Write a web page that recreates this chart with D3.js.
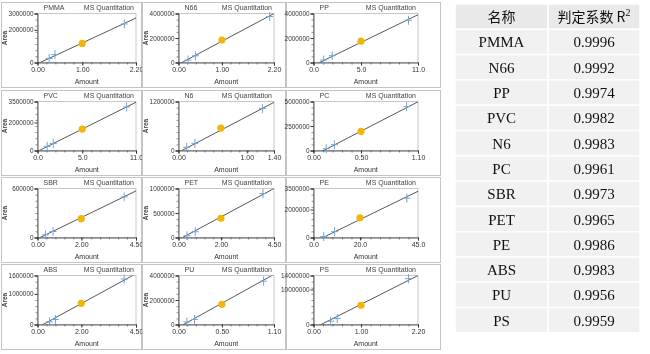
<!DOCTYPE html>
<html><head><meta charset="utf-8">
<script src="https://cdn.jsdelivr.net/npm/d3@7"></script>
<style>body{margin:0;background:#fff}svg{display:block;will-change:transform}</style>
</head><body><svg id="c" width="650" height="354"></svg>
<script>
const names = ["PMMA","N66","PP","PVC","N6","PC","SBR","PET","PE","ABS","PU","PS"];
const r2 = ["0.9996","0.9992","0.9974","0.9982","0.9983","0.9961","0.9973","0.9965","0.9986","0.9983","0.9956","0.9959"];
const tableHeader = ["名称","判定系数 R"];
const xMax = [2.2,2.2,11,11,1.4,1.1,4.5,4.5,45,4.5,1.1,2.2];
const xTicks = [[0,1,2.2],[0,1,2.2],[0,5,11],[0,5,11],[0,1,1.4],[0,0.5,1.1],[0,2,4.5],[0,2,4.5],[0,20,45],[0,2,4.5],[0,0.5,1.1],[0,1,2.2]];
const xDecimals = [2,2,1,1,2,2,2,2,1,2,2,2];
const yMax = [3e6,4e6,4e6,3.5e6,1.2e6,5e6,6e5,1e6,3.5e6,1.6e6,4e6,1.4e7];
const yTicks = [[0,2e6,3e6],[0,2e6,4e6],[0,2e6,4e6],[0,2e6,3.5e6],[0,1.2e6],[0,2.5e6,5e6],[0,6e5],[0,5e5,1e6],[0,2e6,3.5e6],[0,1e6,1.6e6],[0,2e6,4e6],[0,1e7,1.4e7]];
const calX = [[0.26,0.39,1.94],[0.22,0.39,2.1],[1.07,1.97,10.0],[1.09,1.76,9.96],[0.12,0.24,1.23],[0.134,0.22,0.98],[0.36,0.71,3.96],[0.4,0.79,3.98],[4.4,9.1,40.2],[0.55,0.82,3.96],[0.097,0.185,0.98],[0.36,0.5,2.0]];
const calY = [[2.42e5,4.85e5,2.36e6],[2.0e5,5.5e5,3.75e6],[2.0e5,5.5e5,3.45e6],[3.0e5,4.9e5,3.11e6],[7.9e4,1.75e5,1.03e6],[1.8e5,5.9e5,4.48e6],[3.3e4,7.4e4,4.97e5],[3.5e4,1.18e5,8.97e5],[7.0e4,4.2e5,2.81e6],[8.6e4,1.65e5,1.485e6],[2.1e5,4.1e5,3.54e6],[9.4e5,1.7e6,1.31e7]];
const qcX = [1.0,1.0,5.0,5.0,0.62,0.5,2.0,2.0,20,2.0,0.5,1.0];
const qcY = [1.17e6,1.83e6,1.74e6,1.53e6,5.5e5,1.96e6,2.3e5,3.93e5,1.41e6,6.9e5,1.65e6,5.5e6];
const slope = [1.274e6,1.887e6,3.764e5,3.194e5,8.74e5,5.0e6,1.301e5,2.32e5,8.07e4,3.906e5,3.93e6,6.86e6];
const intercept = [-7.6e4,-1.51e5,-2.41e5,-6.4e4,-4.4e4,-5.3e5,-1.56e4,-4.4e4,-3.31e5,-9.76e4,-2.28e5,-1.1e6];

const svg = d3.select("#c");
const font = "Liberation Sans, Arial, sans-serif";
const colX = [{l:1,r:141,pl:37.5,pr:136},{l:142,r:285,pl:178.5,pr:274},{l:286,r:440,pl:313.5,pr:418}];
const rowY = [2,90,177,264];
const defs = svg.append("defs");

names.forEach((nm,i)=>{
  const c = colX[i%3], r = rowY[Math.floor(i/3)];
  const top = r+11.5, bot = r+60.5;
  const g = svg.append("g");
  g.append("rect").attr("x",c.l+0.5).attr("y",r+0.5).attr("width",c.r-c.l).attr("height",85)
    .attr("fill","#fff").attr("stroke","#c4c4c4").attr("stroke-width",1);
  const x = d3.scaleLinear().domain([0,xMax[i]]).range([c.pl,c.pr]);
  const y = d3.scaleLinear().domain([0,yMax[i]]).range([bot,top]);
  g.append("rect").attr("x",c.pl).attr("y",top).attr("width",c.pr-c.pl).attr("height",bot-top)
    .attr("fill","none").attr("stroke","#bbb").attr("stroke-width",0.8);
  const xa = d3.axisBottom(x).tickValues(d3.range(0,xMax[i]+1e-9,xMax[i]/11)).tickSize(2).tickFormat("");
  g.append("g").attr("transform",`translate(0,${bot})`).call(xa).call(s=>{s.select(".domain").remove();s.selectAll("line").attr("stroke","#444").attr("stroke-width",0.6);});
  const ya = d3.axisLeft(y).tickValues(d3.range(0,yMax[i]+1e-9,yMax[i]/8)).tickSize(2).tickFormat("");
  g.append("g").attr("transform",`translate(${c.pl},0)`).call(ya).call(s=>{s.select(".domain").remove();s.selectAll("line").attr("stroke","#444").attr("stroke-width",0.6);});
  const xb = d3.axisBottom(x).tickValues(xTicks[i]).tickSize(3).tickPadding(2).tickFormat(d3.format("."+xDecimals[i]+"f"));
  g.append("g").attr("transform",`translate(0,${bot})`).call(xb).call(s=>{
    s.select(".domain").attr("stroke","#333").attr("stroke-width",0.8);
    s.selectAll("line").attr("stroke","#333");
    s.selectAll("text").attr("font-family",font).attr("font-size",7).attr("fill","#333");
  });
  const yb = d3.axisLeft(y).tickValues(yTicks[i]).tickSize(3).tickPadding(1).tickFormat(d3.format("d"));
  g.append("g").attr("transform",`translate(${c.pl},0)`).call(yb).call(s=>{
    s.select(".domain").attr("stroke","#333").attr("stroke-width",0.8);
    s.selectAll("line").attr("stroke","#333");
    s.selectAll("text").attr("font-family",font).attr("font-size",6.4).attr("fill","#333");
  });
  g.append("text").attr("x",c.pl+6).attr("y",r+8).attr("font-family",font).attr("font-size",7).attr("fill","#444").text(nm);
  g.append("text").attr("x",c.pr-2).attr("y",r+8).attr("text-anchor","end").attr("font-family",font).attr("font-size",7).attr("fill","#444").text("MS Quantitation");
  g.append("text").attr("x",(c.pl+c.pr)/2).attr("y",bot+21).attr("text-anchor","middle").attr("font-family",font).attr("font-size",7).attr("fill","#333").text("Amount");
  if (i%3 !== 2) {
    g.append("text").attr("transform",`translate(${c.l+6},${(top+bot)/2}) rotate(-90)`).attr("text-anchor","middle")
      .attr("font-family",font).attr("font-size",6.5).attr("font-weight","bold").attr("fill","#444").text("Area");
  }
  const cid = "clip"+i;
  defs.append("clipPath").attr("id",cid).append("rect").attr("x",c.pl).attr("y",top).attr("width",c.pr-c.pl).attr("height",bot-top);
  const xs = [0,xMax[i]];
  g.append("line").attr("clip-path",`url(#${cid})`)
    .attr("x1",x(xs[0])).attr("y1",y(slope[i]*xs[0]+intercept[i]))
    .attr("x2",x(xs[1])).attr("y2",y(slope[i]*xs[1]+intercept[i]))
    .attr("stroke","#444").attr("stroke-width",0.9);
  calX[i].forEach((vx,k)=>{
    const px = x(vx), py = y(calY[i][k]);
    g.append("path").attr("d",`M${px-3.5},${py}H${px+3.5}M${px},${py-4.5}V${py+4.5}`)
      .attr("stroke","#6ea6dc").attr("stroke-width",1).attr("fill","none");
  });
  g.append("circle").attr("cx",x(qcX[i])).attr("cy",y(qcY[i])).attr("r",3.6).attr("fill","#f2b50a");
});

const tx0 = 455, tx1 = 548, tx2 = 640, ty0 = 4, rh = 25.3;
const tg = svg.append("g");
const rows = [tableHeader].concat(names.map((n,i)=>[n,r2[i]]));
rows.forEach((row,j)=>{
  const yTop = ty0 + j*rh;
  [[tx0,tx1],[tx1,tx2]].forEach(([a,b],k)=>{
    tg.append("rect").attr("x",a).attr("y",yTop).attr("width",b-a).attr("height",rh)
      .attr("fill",j===0?"#e9e9e9":"#f1f1f1").attr("stroke","#fff").attr("stroke-width",1.5);
    const t = tg.append("text").attr("x",(a+b)/2).attr("y",yTop+rh/2+5.5).attr("text-anchor","middle")
      .attr("font-size",15).attr("fill","#111")
      .attr("font-family", j===0 ? "Noto Sans CJK SC, sans-serif" : "Liberation Serif, Times New Roman, serif");
    if (j===0) t.attr("font-size",14);
    t.text(row[k]);
    if (j===0 && k===1) {
      t.append("tspan").attr("font-family","Liberation Serif, serif").attr("font-size",10).attr("dy",-6).text("2");
    }
  });
});
</script></body></html>
